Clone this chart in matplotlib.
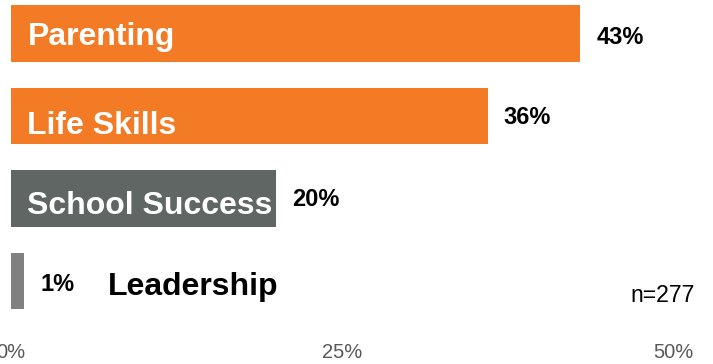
import matplotlib.pyplot as plt

# survey results
categories = ["Parenting", "Life Skills", "School Success", "Leadership"]
values = [43, 36, 20, 1]
sample_size = 277

colors = ["#F47B25", "#F47B25", "#5F6663", "#808080"]
label_inside = [True, True, True, False]
label_drop = [11.5, 18.5, 16, 14]  # baseline of category labels below bar centre (px)
value_drop = [10, 8.5, 8, 10]      # baseline of value labels below bar centre (px)

plt.rcParams['font.family'] = ['Liberation Sans', 'DejaVu Sans']

fig = plt.figure(figsize=(7.13, 3.64), dpi=100)
ax = fig.add_axes([11 / 713, (364 - 335) / 364, 662 / 713, 335 / 364])

y = list(range(len(categories)))
ax.barh(y, values, height=0.69, color=colors)
ax.set_xlim(0, 50)
ax.set_ylim(3 + (335 - 281) / 82.5, -33.5 / 82.5)

px = 72 / 100  # one pixel in points
for i, (cat, v) in enumerate(zip(categories, values)):
    ax.annotate(f"{v}%", (v, i), xytext=(16 * px, -value_drop[i] * px), textcoords="offset points",
                ha="left", va="baseline", fontsize=17, fontweight="bold", color="black")
    if label_inside[i]:
        ax.annotate(cat, (0, i), xytext=(16.5 * px, -label_drop[i] * px), textcoords="offset points",
                    ha="left", va="baseline", fontsize=23, fontweight="bold", color="white")
    else:
        ax.annotate(cat, (v, i), xytext=(84 * px, -label_drop[i] * px), textcoords="offset points",
                    ha="left", va="baseline", fontsize=23, fontweight="bold", color="black")

ax.set_xticks([0, 25, 50])
ax.set_xticklabels(["0%", "25%", "50%"])
ax.tick_params(axis="x", length=0, pad=6, labelsize=14.5, labelcolor="#595959")
ax.set_yticks([])
for s in ax.spines.values():
    s.set_visible(False)

fig.text(695 / 713, 1 - 302 / 364, f"n={sample_size}", ha="right", va="baseline", fontsize=16.6)

fig.savefig("out.png", dpi=100)
